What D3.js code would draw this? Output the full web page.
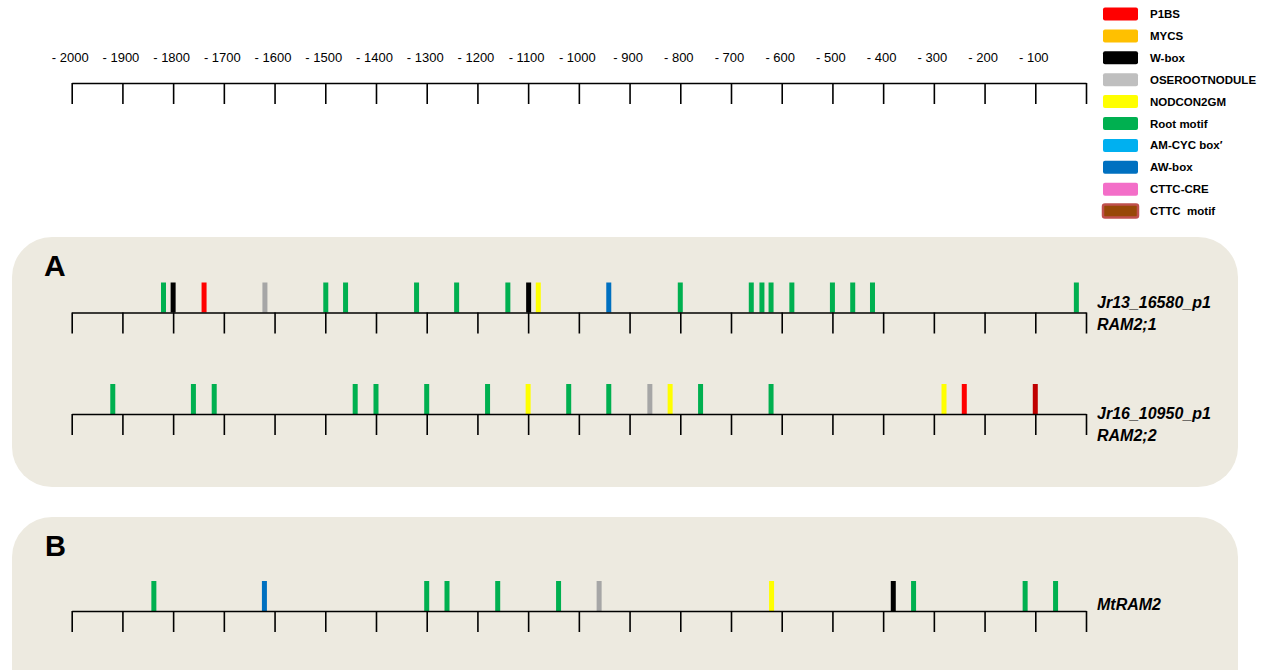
<!DOCTYPE html>
<html><head><meta charset="utf-8">
<script src="https://cdn.jsdelivr.net/npm/d3@7"></script>
<style>body{margin:0;background:#fff}svg{display:block}</style>
</head><body>
<svg id="c" width="1268" height="670"></svg>
<script>
// ---- data ----
const motifs = ["P1BS","MYCS","W-box","OSEROOTNODULE","NODCON2GM","Root motif","AM-CYC box\u2032","AW-box","CTTC-CRE","CTTC  motif"];
const legendColors = ["#FF0000","#FFC000","#000000","#BFBFBF","#FFFF00","#00B050","#00B0F0","#0070C0","#F36EC8","#984807"];
const markColors   = ["#FF0000","#FFC000","#000000","#A6A6A6","#FFFF00","#00B050","#00B0F0","#0070C0","#F36EC8","#C00000"];
const axisTicks = d3.range(-2000, 1, 100);
const tickLabels = ["- 2000","- 1900","- 1800","- 1700","- 1600","- 1500","- 1400","- 1300","- 1200","- 1100","- 1000","- 900","- 800","- 700","- 600","- 500","- 400","- 300","- 200","- 100",""];

const jr13Pos  = [-1819,-1800,-1739,-1619,-1499,-1460,-1320,-1241,-1140,-1099,-1080,-941,-800,-660,-639,-621,-580,-500,-460,-421,-19];
const jr13Type = ["Root motif","W-box","P1BS","OSEROOTNODULE","Root motif","Root motif","Root motif","Root motif","Root motif","W-box","NODCON2GM","AW-box","Root motif","Root motif","Root motif","Root motif","Root motif","Root motif","Root motif","Root motif","Root motif"];
const jr16Pos  = [-1919,-1760,-1719,-1441,-1400,-1300,-1180,-1100,-1020,-941,-860,-820,-760,-621,-280,-240,-100];
const jr16Type = ["Root motif","Root motif","Root motif","Root motif","Root motif","Root motif","Root motif","NODCON2GM","Root motif","Root motif","OSEROOTNODULE","NODCON2GM","Root motif","Root motif","NODCON2GM","P1BS","CTTC  motif"];
const mtPos    = [-1838,-1620,-1300,-1260,-1160,-1040,-960,-620,-380,-340,-120,-60];
const mtType   = ["Root motif","AW-box","Root motif","Root motif","Root motif","Root motif","OSEROOTNODULE","NODCON2GM","W-box","Root motif","Root motif","Root motif"];
const geneNames = [["Jr13_16580_p1","RAM2;1"],["Jr16_10950_p1","RAM2;2"],["MtRAM2"]];
const panelLabels = ["A","B"];

// ---- drawing ----
const svg = d3.select("#c");
const x = d3.scaleLinear().domain([-2000, 0]).range([71.7, 1086]);
const legendFill = d3.scaleOrdinal().domain(motifs).range(legendColors);
const markFill = d3.scaleOrdinal().domain(motifs).range(markColors);
const FONT = "'Liberation Sans', Arial, sans-serif";

// panels
svg.append("rect").attr("x",12).attr("y",237).attr("width",1226).attr("height",250).attr("rx",40).attr("fill","#EDEAE0");
svg.append("rect").attr("x",12).attr("y",517).attr("width",1226).attr("height",220).attr("rx",40).attr("fill","#EDEAE0");
svg.append("text").attr("x",44).attr("y",276).text(panelLabels[0]).attr("font-family",FONT).attr("font-weight","bold").attr("font-size",30);
svg.append("text").attr("x",45).attr("y",556).text(panelLabels[1]).attr("font-family",FONT).attr("font-weight","bold").attr("font-size",29);

// top axis
const topAxis = svg.append("g").attr("transform","translate(0,83)")
  .call(d3.axisTop(x).tickValues(axisTicks).tickSizeInner(-21).tickSizeOuter(0).tickPadding(21)
    .tickFormat((d,i) => tickLabels[i]));
topAxis.selectAll("text").attr("font-family",FONT).attr("font-size",13).attr("fill","#000").attr("dx",-2);
topAxis.selectAll("line,path").attr("stroke","#000").attr("stroke-width",1.6);

// tracks
function track(yLine, pos, types) {
  const g = svg.append("g").attr("transform",`translate(0,${yLine})`);
  g.selectAll("rect.m").data(pos.map((p,i)=>({p, t: types[i]}))).join("rect")
    .attr("class","m")
    .attr("x", d => x(d.p) - 2.5).attr("y", -30).attr("width", 5).attr("height", 30)
    .attr("fill", d => markFill(d.t));
  const ax = g.append("g")
    .call(d3.axisBottom(x).tickValues(axisTicks).tickSizeInner(21).tickSizeOuter(0).tickFormat(""));
  ax.selectAll("line,path").attr("stroke","#000").attr("stroke-width",1.6);
}
track(312.5, jr13Pos, jr13Type);
track(414, jr16Pos, jr16Type);
track(611, mtPos, mtType);

// gene labels
const labelTop = [308, 419, 610];
geneNames.forEach((lines, gi) => {
  lines.forEach((s, li) => {
    svg.append("text").attr("x",1097).attr("y", labelTop[gi] + li*22).text(s)
      .attr("font-family",FONT).attr("font-weight","bold").attr("font-style","italic").attr("font-size",16);
  });
});

// legend
const lg = svg.append("g");
motifs.forEach((m, i) => {
  const cy = 14 + i * 21.9;
  lg.append("rect").attr("x",1103).attr("y",cy-6.5).attr("width",35).attr("height",13).attr("rx",2)
    .attr("fill", legendFill(m))
    .attr("stroke", m === "CTTC  motif" ? "#C0504D" : "none").attr("stroke-width", 2.5);
  lg.append("text").attr("x",1150).attr("y",cy).attr("dy","0.35em").text(m)
    .style("white-space","pre")
    .attr("font-family",FONT).attr("font-weight","bold").attr("font-size",11.5);
});
</script>
</body></html>
